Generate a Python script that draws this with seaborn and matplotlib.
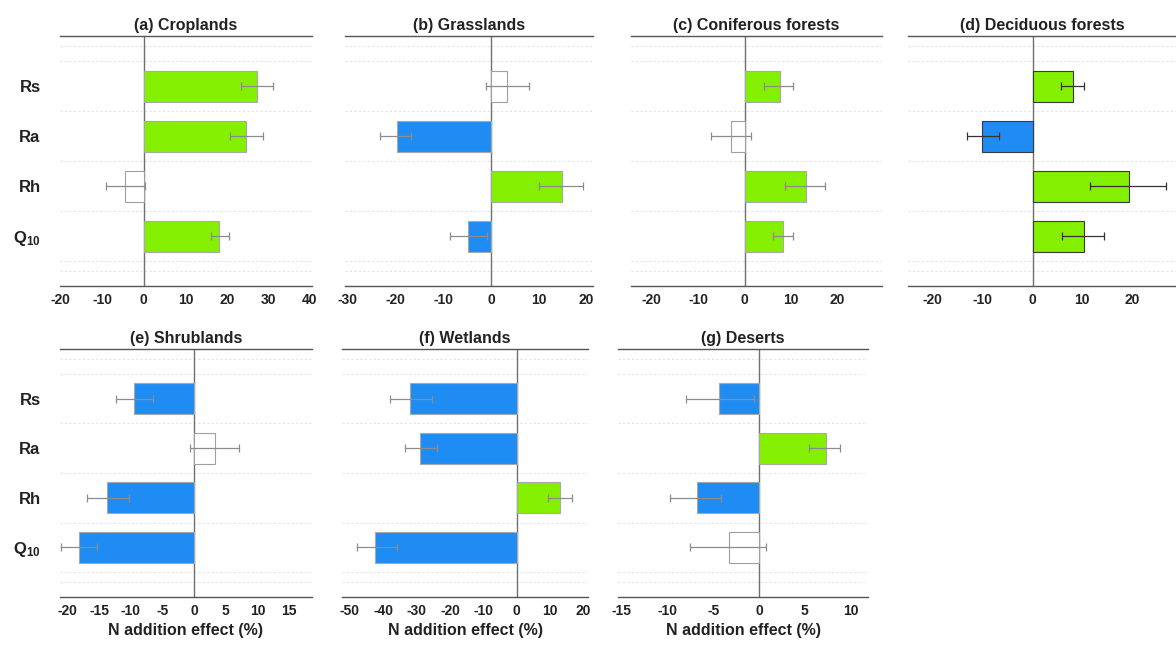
import numpy as np
import pandas as pd
import seaborn as sns
import matplotlib
matplotlib.use('Agg')
import matplotlib.pyplot as plt

# categories shared by all panels
cats = ['Rs', 'Ra', 'Rh', 'Q10']
cat_labels = ['Rs', 'Ra', 'Rh', r'$\mathbf{Q_{10}}$']

# mean effect (%) and 95% CI per ecosystem
crop_mean = [27.2, 24.6, -4.6, 18.2]
crop_lo = [23.4, 20.8, -9.2, 16.2]
crop_hi = [31.2, 28.8, 0.2, 20.6]

grass_mean = [3.3, -19.8, 15.0, -4.8]
grass_lo = [-1.0, -23.3, 10.1, -8.5]
grass_hi = [8.0, -16.8, 19.2, -0.9]

conif_mean = [7.6, -3.0, 13.2, 8.3]
conif_lo = [4.2, -7.3, 8.8, 6.0]
conif_hi = [10.5, 1.3, 17.4, 10.5]

decid_mean = [8.2, -10.1, 19.3, 10.4]
decid_lo = [5.8, -13.1, 11.5, 6.0]
decid_hi = [10.4, -6.8, 26.8, 14.4]

shrub_mean = [-9.5, 3.3, -13.8, -18.2]
shrub_lo = [-12.3, -0.7, -17.0, -21.0]
shrub_hi = [-6.5, 7.0, -10.3, -15.4]

wet_mean = [-32.0, -29.0, 13.0, -42.5]
wet_lo = [-38.0, -33.5, 9.5, -48.0]
wet_hi = [-25.5, -24.0, 16.5, -36.0]

desert_mean = [-4.4, 7.3, -6.8, -3.3]
desert_lo = [-8.0, 5.5, -9.7, -7.5]
desert_hi = [-0.5, 8.8, -4.1, 0.8]

titles = ['(a) Croplands', '(b) Grasslands', '(c) Coniferous forests',
          '(d) Deciduous forests', '(e) Shrublands', '(f) Wetlands', '(g) Deserts']
xticks = [[-20, -10, 0, 10, 20, 30, 40], [-30, -20, -10, 0, 10, 20],
          [-20, -10, 0, 10, 20], [-20, -10, 0, 10, 20],
          [-20, -15, -10, -5, 0, 5, 10, 15], [-50, -40, -30, -20, -10, 0, 10, 20],
          [-15, -10, -5, 0, 5, 10]]
xlims = [(-20.2, 40.5), (-30.6, 21.4), (-24.5, 29.6), (-25.0, 28.8),
         (-21.2, 18.6), (-52.4, 21.4), (-15.4, 11.9)]

panels = [(crop_mean, crop_lo, crop_hi), (grass_mean, grass_lo, grass_hi),
          (conif_mean, conif_lo, conif_hi), (decid_mean, decid_lo, decid_hi),
          (shrub_mean, shrub_lo, shrub_hi), (wet_mean, wet_lo, wet_hi),
          (desert_mean, desert_lo, desert_hi)]

W, H = 1176, 652
# axes boxes in pixels: left, top, right, bottom
boxes = [(60, 36, 312, 286), (345, 36, 593, 286), (631, 36, 882, 286), (908, 36, 1176, 286),
         (60, 349, 312, 597), (342, 349, 588, 597), (618, 349, 868, 597)]

sns.set_theme(style='white')
plt.rcParams['font.family'] = ['Liberation Sans', 'DejaVu Sans']
plt.rcParams['mathtext.fontset'] = 'custom'
plt.rcParams['mathtext.rm'] = 'Liberation Sans'
plt.rcParams['mathtext.bf'] = 'Liberation Sans:bold'

GREEN = '#84F000'
BLUE = '#1E8CF2'

fig = plt.figure(figsize=(W / 100, H / 100), dpi=100)

for i, (mean, lo, hi) in enumerate(panels):
    l, t, r, b = boxes[i]
    ax = fig.add_axes([l / W, 1 - b / H, (r - l) / W, (b - t) / H])
    df = pd.DataFrame({'cat': cats, 'mean': mean, 'lo': lo, 'hi': hi})
    df['sig'] = np.where(df['lo'] > 0, 'pos', np.where(df['hi'] < 0, 'neg', 'ns'))
    pal = {'pos': GREEN, 'neg': BLUE, 'ns': 'white'}

    # faint dotted guide lines between rows
    for yy in [-0.8, -0.5, 0.5, 1.5, 2.5, 3.5, 3.7]:
        ax.axhline(yy, color='#e3e3e3', lw=0.8, ls=(0, (2, 2)), zorder=0)

    sns.barplot(data=df, x='mean', y='cat', hue='sig', palette=pal, orient='h',
                width=0.62, dodge=False, legend=False, saturation=1, ax=ax, zorder=2)
    dark = (i == 3)
    for p in ax.patches:
        fc = matplotlib.colors.to_hex(p.get_facecolor())
        if fc == '#ffffff':
            p.set_edgecolor('#a0a0a0')
        else:
            p.set_edgecolor('#3a3a3a' if dark else '#a8a8a8')
        p.set_linewidth(0.8)

    pos = np.arange(len(cats))
    ctr = (df['lo'] + df['hi']) / 2
    half = (df['hi'] - df['lo']) / 2
    ax.errorbar(ctr, pos, xerr=half, fmt='none', ecolor='#333333' if dark else '#8c8c8c',
                elinewidth=0.9, capsize=3, capthick=0.9, zorder=3)

    ax.axvline(0, color='#707070', lw=1.0, zorder=1)
    ax.set_xlim(*xlims[i])
    ax.set_ylim(4.0, -1.0)
    ax.set_xticks(xticks[i])
    ax.set_xticklabels([str(v) for v in xticks[i]], fontsize=10, fontweight='bold', color='#222222')
    ax.tick_params(axis='x', direction='in', length=3, width=0.8, color='#707070', pad=5)

    for s in ['left', 'right']:
        ax.spines[s].set_visible(False)
    for s in ['top', 'bottom']:
        ax.spines[s].set_color('#555555')
        ax.spines[s].set_linewidth(1.0)

    if i in (0, 4):
        ax.set_yticks(pos)
        ax.set_yticklabels(cat_labels, fontsize=12, fontweight='bold', color='#222222')
        ax.tick_params(axis='y', length=0, pad=14)
    else:
        ax.set_yticks([])
    ax.set_ylabel('')
    if i >= 4:
        ax.set_xlabel('N addition effect (%)', fontsize=11.5, fontweight='bold', color='#222222', labelpad=4)
    else:
        ax.set_xlabel('')
    ax.set_title(titles[i], fontsize=11.5, fontweight='bold', color='#222222', pad=4)

fig.savefig('out.png', dpi=100)
